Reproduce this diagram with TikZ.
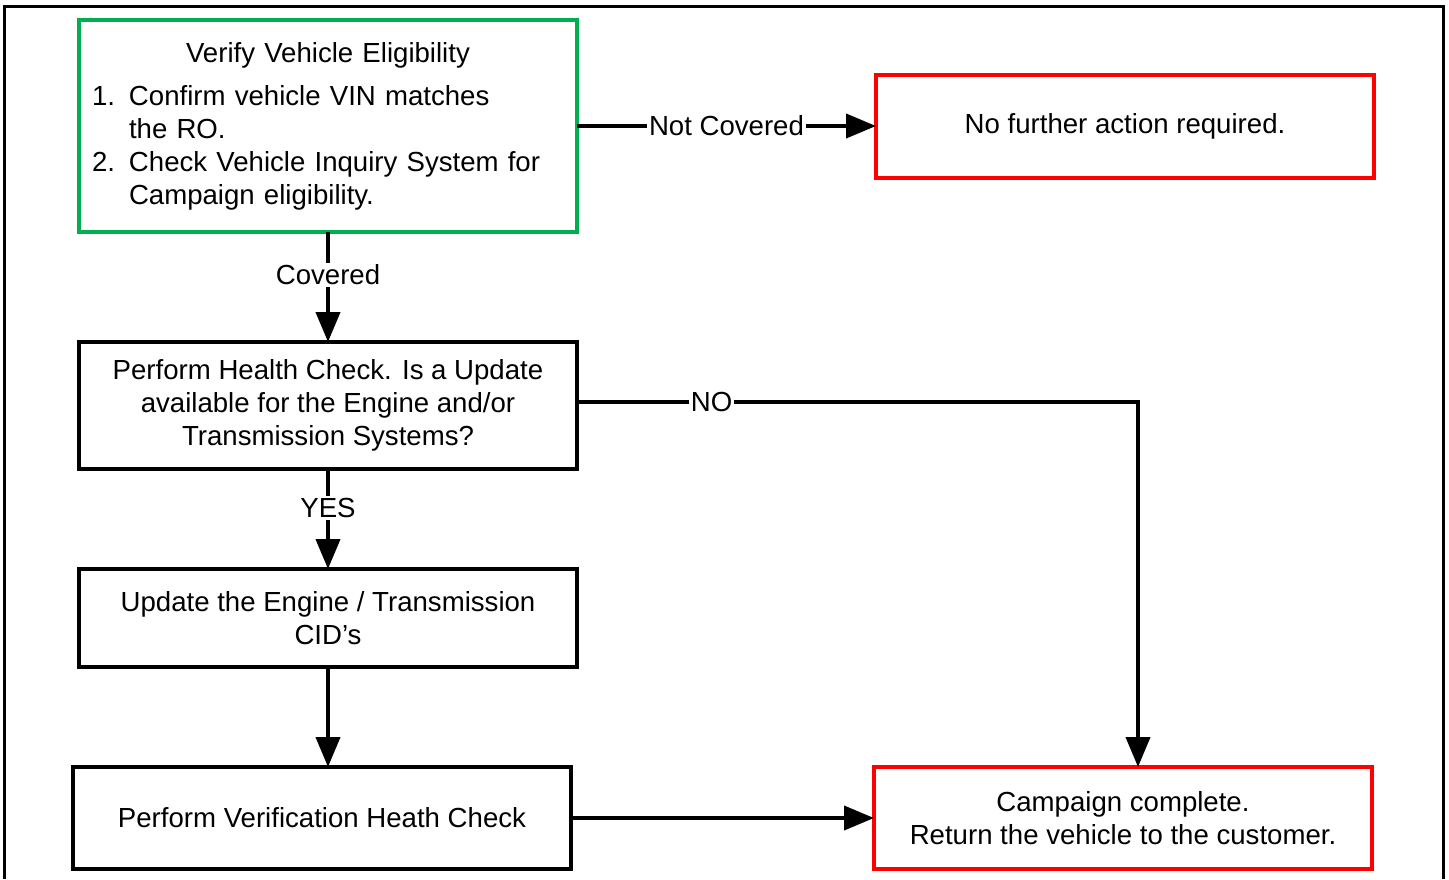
\documentclass[tikz,border=0pt]{standalone}
\usepackage{fontspec}
\setmainfont{Liberation Sans}
\usetikzlibrary{arrows.meta,positioning,calc}
\definecolor{okgreen}{RGB}{0,176,80}
\newcommand{\listnum}[1]{\makebox[18.5pt][l]{#1}}

\begin{document}
\begin{tikzpicture}[
  x=0.5pt,y=-0.5pt,
  ->,>={Triangle[length=15pt,width=12pt]},line width=2pt,
  every node/.style={align=center,font=\fontsize{13.8}{16.5}\selectfont},
  stepbox/.style={rectangle,draw=black,minimum width=249pt,outer sep=0pt,inner sep=0pt},
  okbox/.style={stepbox,draw=okgreen},
  endbox/.style={stepbox,draw=red},
  lbl/.style={fill=white,inner sep=1pt}
]
\useasboundingbox (0,0) rectangle (1449,879);
\draw[-,line width=1.5pt] (4,879) -- (4,6) -- (1443,6) -- (1443,879);

\node[okbox,minimum height=106pt,text width=236pt,align=left,inner xsep=6.5pt] (verify) at (328,126)
  {\makebox[236pt]{Verify Vehicle Eligibility}\\[5pt]
   \listnum{1.}Confirm vehicle VIN matches\\
   \listnum{}the RO.\\
   \listnum{2.}Check Vehicle Inquiry System for\\
   \listnum{}Campaign eligibility.};
\node[endbox,minimum height=51.5pt,right=149.5pt of verify] (nocover) {No further action required.};
\node[stepbox,minimum height=63.5pt,below=55pt of verify] (health)
  {Perform Health Check. Is a Update\\available for the Engine and/or\\Transmission Systems?};
\node[stepbox,minimum height=49pt,below=50pt of health] (update) {Update the Engine / Transmission\\CID’s};
\node[stepbox,minimum height=51pt,below=50pt of update,xshift=-3pt] (verifcheck) {Perform Verification Heath Check};
\node[endbox,minimum height=51pt,right=151.5pt of verifcheck] (done)
  {Campaign complete.\\Return the vehicle to the customer.};

\draw (verify) -- node[lbl]{Not Covered} (nocover);
\draw (verify) -- node[lbl,pos=0.39]{Covered} (health);
\draw ([yshift=2pt]health.east) -| node[lbl,pos=0.12]{NO} ([xshift=7.5pt]done.north);
\draw (health) -- node[lbl,pos=0.39]{YES} (update);
\draw (update.south) -- (update.south |- verifcheck.north);
\draw (verifcheck) -- (done);
\end{tikzpicture}
\end{document}
